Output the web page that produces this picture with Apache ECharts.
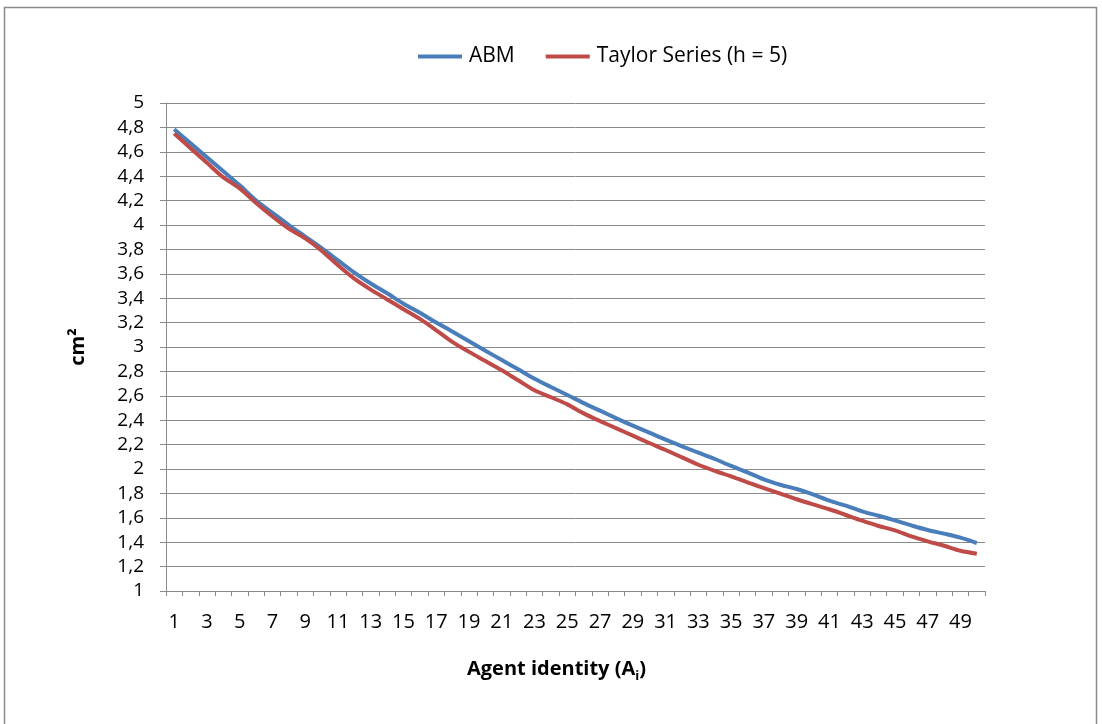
<!DOCTYPE html>
<html>
<head>
<meta charset="utf-8">
<script src="https://cdn.jsdelivr.net/npm/echarts@6/dist/echarts.min.js"></script>
<style>
html,body{margin:0;padding:0;background:#fff;}
#chart{width:1102px;height:724px;}
</style>
</head>
<body>
<div id="chart"></div>
<script>
const agents = Array.from({length: 50}, (_, i) => String(i + 1));
const abm = [4.785, 4.67, 4.555, 4.44, 4.325, 4.2, 4.1, 4.0, 3.905, 3.81,
  3.71, 3.61, 3.52, 3.44, 3.355, 3.28, 3.2, 3.125, 3.047, 2.97,
  2.893, 2.817, 2.74, 2.672, 2.607, 2.54, 2.478, 2.415, 2.355, 2.298,
  2.24, 2.186, 2.134, 2.082, 2.025, 1.973, 1.915, 1.871, 1.836, 1.792,
  1.74, 1.699, 1.653, 1.617, 1.579, 1.538, 1.5, 1.47, 1.437, 1.393];
const taylor = [4.75, 4.63, 4.51, 4.39, 4.3, 4.18, 4.07, 3.97, 3.89, 3.79,
  3.67, 3.56, 3.47, 3.39, 3.31, 3.23, 3.137, 3.04, 2.96, 2.885,
  2.81, 2.727, 2.645, 2.588, 2.53, 2.456, 2.393, 2.333, 2.273, 2.213,
  2.156, 2.095, 2.035, 1.985, 1.94, 1.89, 1.844, 1.798, 1.752, 1.71,
  1.67, 1.623, 1.576, 1.533, 1.497, 1.448, 1.407, 1.371, 1.33, 1.306];
const seriesNames = ['ABM', 'Taylor Series (h = 5)'];

const FONT = 'Open Sans';
const chart = echarts.init(document.getElementById('chart'), null, {renderer: 'canvas'});
chart.setOption({
  animation: false,
  backgroundColor: '#fff',
  graphic: [{
    type: 'rect', silent: true,
    shape: {x: 4.5, y: 7.5, width: 1092, height: 730},
    style: {fill: 'none', stroke: '#8a8a8a', lineWidth: 1.5}
  }],
  legend: {
    left: 418, top: 46, padding: 0,
    icon: 'rect',
    itemWidth: 44, itemHeight: 4, itemGap: 31,
    textStyle: {fontFamily: FONT, fontSize: 21, color: '#000', padding: [0, 0, 0, 2]},
    data: seriesNames
  },
  grid: {left: 166, right: 117, top: 103, bottom: 133},
  xAxis: {
    type: 'category',
    data: agents,
    boundaryGap: true,
    name: '{a|Agent identity (A}{s|i}{a|)}',
    nameLocation: 'middle',
    nameGap: 68,
    nameTextStyle: {
      padding: [0, 38, 0, 0],
      rich: {
        a: {fontFamily: FONT, fontSize: 20, fontWeight: 'bold', color: '#000', verticalAlign: 'bottom'},
        s: {fontFamily: FONT, fontSize: 13, fontWeight: 'bold', color: '#000', verticalAlign: 'bottom', padding: [0, 0, -4, 0]}
      }
    },
    axisLine: {lineStyle: {color: '#8a8a8a', width: 1}},
    axisTick: {show: true, interval: 0, length: 5, lineStyle: {color: '#8a8a8a'}},
    axisLabel: {interval: 1, margin: 21, fontFamily: FONT, fontSize: 20, color: '#000'},
    splitLine: {show: false}
  },
  yAxis: {
    type: 'value',
    min: 1, max: 5, interval: 0.2,
    name: 'cm²',
    nameLocation: 'middle',
    nameRotate: 90,
    nameGap: 78,
    nameTextStyle: {fontFamily: FONT, fontSize: 20, fontWeight: 'bold', color: '#000'},
    axisLine: {show: true, lineStyle: {color: '#8a8a8a', width: 1}},
    axisTick: {show: true, length: 6, lineStyle: {color: '#8a8a8a'}},
    axisLabel: {
      margin: 22, fontFamily: FONT, fontSize: 19, color: '#000',
      formatter: v => String(+v.toFixed(1)).replace('.', ',')
    },
    splitLine: {show: true, lineStyle: {color: '#8a8a8a', width: 1}}
  },
  series: [
    {name: seriesNames[0], type: 'line', data: abm, smooth: 0.3, showSymbol: false, symbol: 'none',
     lineStyle: {color: '#4a7ebb', width: 4}, itemStyle: {color: '#4a7ebb'}},
    {name: seriesNames[1], type: 'line', data: taylor, smooth: 0.3, showSymbol: false, symbol: 'none',
     lineStyle: {color: '#be4b48', width: 4}, itemStyle: {color: '#be4b48'}}
  ]
});
</script>
</body>
</html>
